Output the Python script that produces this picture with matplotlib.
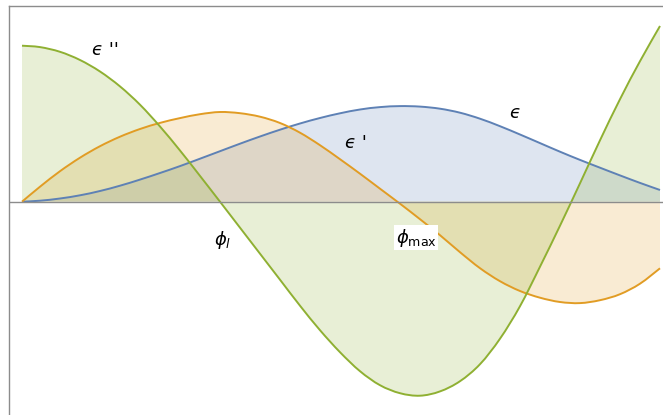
import matplotlib
matplotlib.use("Agg")
import matplotlib.pyplot as plt
from matplotlib.path import Path
from matplotlib.patches import PathPatch

plt.rcParams['mathtext.fontset'] = 'dejavusans'

# angle samples (arbitrary units) and the three curves
phi = [0.00, 0.18, 0.38, 0.58, 0.78, 0.98, 1.18, 1.38, 1.58, 1.78, 1.98,
       2.18, 2.38, 2.58, 2.78, 2.98, 3.18, 3.38, 3.58, 3.78, 3.98, 4.18,
       4.38, 4.58, 4.78, 4.98, 5.18, 5.38, 5.58, 5.78, 5.98, 6.18, 6.38]

eps = [0.000, 0.010, 0.032, 0.064, 0.107, 0.160, 0.221, 0.287, 0.356, 0.430,
       0.505, 0.580, 0.652, 0.720, 0.782, 0.837, 0.884, 0.922, 0.946, 0.956,
       0.951, 0.930, 0.890, 0.830, 0.755, 0.672, 0.586, 0.500, 0.418, 0.340,
       0.263, 0.188, 0.117]

eps_1 = [0.000, 0.150, 0.305, 0.440, 0.555, 0.650, 0.727, 0.788, 0.836, 0.875,
         0.897, 0.885, 0.850, 0.787, 0.690, 0.565, 0.425, 0.280, 0.130, -0.020,
         -0.175, -0.335, -0.505, -0.665, -0.795, -0.893, -0.960, -1.003,
         -1.014, -0.985, -0.925, -0.820, -0.666]

eps_2 = [1.560, 1.546, 1.499, 1.417, 1.302, 1.153, 0.970, 0.752, 0.512, 0.258,
         0.000, -0.260, -0.520, -0.780, -1.040, -1.285, -1.505, -1.695,
         -1.835, -1.915, -1.940, -1.897, -1.795, -1.625, -1.370, -1.045,
         -0.650, -0.240, 0.184, 0.614, 1.025, 1.405, 1.757]

labels = {
    'eps': "ϵ",
    'eps_1': "ϵ '",
    'eps_2': "ϵ ''",
    'phi_l': r"$\phi_l$",
    'phi_max': r"$\phi_{\rm max}$",
}

blue = '#5E81B5'
orange = '#E19C24'
green = '#8FB032'
grey = '#8c8c8c'


def smooth_curve(xs, ys):
    # cubic bezier segments through the sampled points (rendering only)
    n = len(xs)
    verts = [(xs[0], ys[0])]
    codes = [Path.MOVETO]
    for i in range(n - 1):
        a = i - 1 if i > 0 else i
        d = i + 2 if i + 2 < n else i + 1
        c1 = (xs[i] + (xs[i + 1] - xs[a]) / 6, ys[i] + (ys[i + 1] - ys[a]) / 6)
        c2 = (xs[i + 1] - (xs[d] - xs[i]) / 6, ys[i + 1] - (ys[d] - ys[i]) / 6)
        verts += [c1, c2, (xs[i + 1], ys[i + 1])]
        codes += [Path.CURVE4] * 3
    return verts, codes


fig = plt.figure(figsize=(6.63, 4.15), dpi=100)
ax = fig.add_axes([9 / 663, 0, 654 / 663, 409 / 415])

series = [(eps, blue), (eps_1, orange), (eps_2, green)]
for y, c in series:
    verts, codes = smooth_curve(phi, y)
    fill = Path(verts + [(phi[-1], 0), (phi[0], 0), (phi[0], y[0])],
                codes + [Path.LINETO, Path.LINETO, Path.CLOSEPOLY])
    ax.add_patch(PathPatch(fill, facecolor=c, alpha=0.2, edgecolor='none'))
for y, c in series:
    verts, codes = smooth_curve(phi, y)
    ax.add_patch(PathPatch(Path(verts, codes), facecolor='none',
                           edgecolor=c, linewidth=1.4))

ax.axhline(0, color=grey, linewidth=1)

ax.set_xlim(-0.13, 6.41)
ax.set_ylim(-2.133, 1.957)
ax.set_xticks([])
ax.set_yticks([])
for side in ['right', 'bottom']:
    ax.spines[side].set_visible(False)
for side in ['left', 'top']:
    ax.spines[side].set_color(grey)
    ax.spines[side].set_linewidth(1)

fs = 13
ax.text(0.83, 1.52, labels['eps_2'], fontsize=fs, ha='center', va='center',
        style='italic')
ax.text(3.34, 0.59, labels['eps_1'], fontsize=fs, ha='center', va='center',
        style='italic')
ax.text(4.93, 0.89, labels['eps'], fontsize=fs, ha='center', va='center',
        style='italic')
ax.text(2.01, -0.38, labels['phi_l'], fontsize=fs, ha='center', va='center')
ax.text(3.94, -0.36, labels['phi_max'], fontsize=fs, ha='center', va='center',
        bbox=dict(facecolor='white', edgecolor='none', pad=1))

fig.savefig('out.png', dpi=100)
